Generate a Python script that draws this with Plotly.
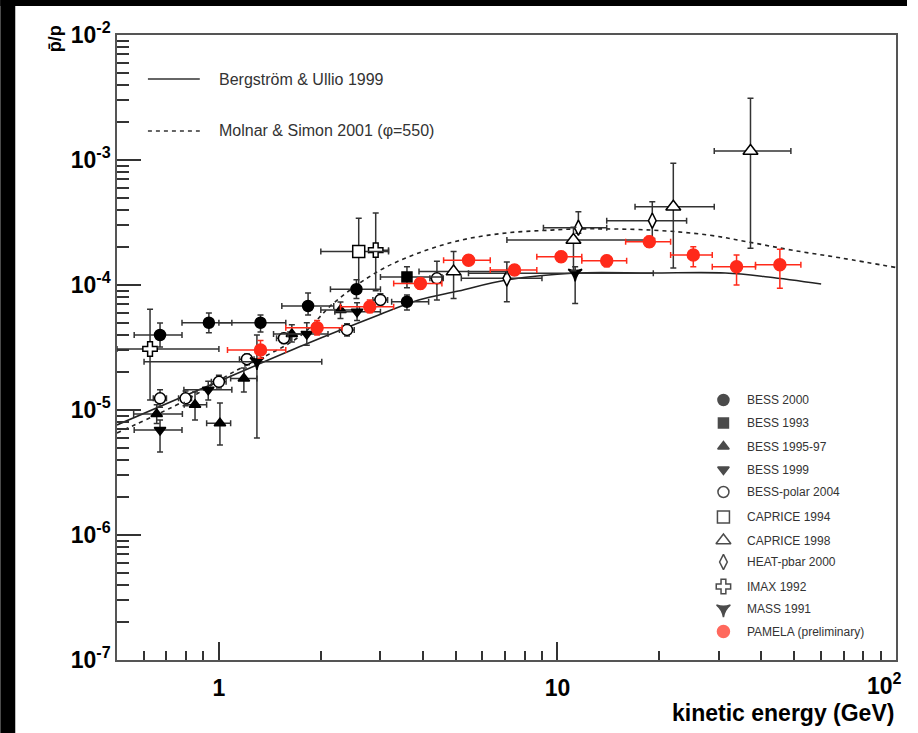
import plotly.graph_objects as go

# ---------------- model curves ----------------
bu_x = [0.5, 0.873, 1.781, 2.965, 3.89, 5.10, 7.07, 11.3, 18.93, 31.3, 41.9, 60.1]
bu_y = [7.59e-6, 1.45e-5, 3.31e-5, 5.75e-5, 7.59e-5, 8.95e-5, 1.096e-4, 1.247e-4,
        1.247e-4, 1.247e-4, 1.159e-4, 1.019e-4]
ms_x = [0.5, 0.799, 1.092, 1.722, 2.20, 2.965, 3.89, 5.21, 7.07, 9.60, 11.53, 18.93,
        27.9, 36.6, 49.0, 68.9, 100.0]
ms_y = [6.55e-6, 1.2e-5, 1.98e-5, 3.84e-5, 7.31e-5, 1.294e-4, 1.803e-4, 2.29e-4,
        2.61e-4, 2.75e-4, 2.81e-4, 2.75e-4, 2.51e-4, 2.21e-4, 1.905e-4, 1.644e-4, 1.38e-4]

# ---------------- data sets ----------------
bess2000_x = [0.670, 0.934, 1.327, 1.834, 2.548, 3.593]
bess2000_y = [3.98e-5, 4.99e-5, 4.99e-5, 6.79e-5, 9.24e-5, 7.35e-5]
bess2000_xlo = [0.562, 0.778, 1.0, 1.534, 2.135, 3.238]
bess2000_xhi = [0.778, 1.092, 1.576, 2.184, 3.0, 4.164]
bess2000_ylo = [3.19e-5, 4.14e-5, 4.21e-5, 5.75e-5, 7.8e-5, 6.3e-5]
bess2000_yhi = [4.97e-5, 5.97e-5, 5.75e-5, 8.63e-5, 1.1e-4, 8.3e-5]

bess1993_x = [3.593]
bess1993_y = [1.16e-4]
bess1993_xlo = [3.0]
bess1993_xhi = [4.557]
bess1993_ylo = [9.5e-5]
bess1993_yhi = [1.4e-4]

bess9597_x = [0.655, 0.850, 1.007, 1.185, 1.642, 2.286]
bess9597_y = [9.29e-6, 1.10e-5, 7.83e-6, 1.79e-5, 4.06e-5, 6.31e-5]
bess9597_xlo = [0.56, 0.79, 0.92, 1.083, 1.45, 2.0]
bess9597_xhi = [0.78, 0.92, 1.083, 1.295, 1.83, 2.6]
bess9597_ylo = [7.8e-6, 8.3e-6, 5.25e-6, 1.39e-5, 3.5e-5, 5.4e-5]
bess9597_yhi = [1.1e-5, 1.39e-5, 1.14e-5, 2.17e-5, 4.8e-5, 7.3e-5]

bess1999_x = [0.670, 0.930, 1.818, 2.559]
bess1999_y = [6.92e-6, 1.45e-5, 4.06e-5, 6.11e-5]
bess1999_xlo = [0.562, 0.788, 1.6, 2.2]
bess1999_xhi = [0.778, 1.092, 2.1, 3.0]
bess1999_ylo = [4.61e-6, 1.2e-5, 3.3e-5, 5.2e-5]
bess1999_yhi = [8.3e-6, 1.7e-5, 5.0e-5, 7.2e-5]

polar_x = [0.670, 0.797, 1.0, 1.21, 1.556, 2.39, 3.0, 4.405]
polar_y = [1.24e-5, 1.24e-5, 1.68e-5, 2.55e-5, 3.75e-5, 4.37e-5, 7.6e-5, 1.13e-4]
polar_xlo = [0.64, 0.76, 0.95, 1.15, 1.48, 2.27, 2.85, 4.2]
polar_xhi = [0.70, 0.83, 1.05, 1.27, 1.63, 2.51, 3.15, 4.6]
polar_ylo = [1.05e-5, 1.08e-5, 1.5e-5, 2.3e-5, 3.4e-5, 3.9e-5, 6.8e-5, 7.6e-5]
polar_yhi = [1.45e-5, 1.42e-5, 1.9e-5, 2.8e-5, 4.1e-5, 4.9e-5, 8.5e-5, 1.55e-4]

cap94_x = [2.588]
cap94_y = [1.85e-4]
cap94_xlo = [2.0]
cap94_xhi = [3.17]
cap94_ylo = [9.69e-5]
cap94_yhi = [3.42e-4]

cap98_x = [4.934, 11.15, 21.99, 37.17]
cap98_y = [1.28e-4, 2.29e-4, 4.23e-4, 1.18e-3]
cap98_xlo = [3.9, 7.09, 16.95, 29.05]
cap98_xhi = [7.09, 18.74, 29.05, 48.92]
cap98_ylo = [7.81e-5, 1.3e-4, 1.37e-4, 1.97e-4]
cap98_yhi = [1.85e-4, 2.9e-4, 9.41e-4, 3.12e-3]

heat_x = [7.087, 11.53, 19.06]
heat_y = [1.13e-4, 2.87e-4, 3.27e-4]
heat_xlo = [5.2, 9.09, 13.98]
heat_xhi = [9.0, 13.98, 24.07]
heat_ylo = [7.35e-5, 2.59e-4, 2.36e-4]
heat_yhi = [1.53e-4, 3.86e-4, 4.64e-4]

imax_x = [0.626, 2.905]
imax_y = [3.08e-5, 1.90e-4]
imax_xlo = [0.5, 2.77]
imax_xhi = [1.0, 3.17]
imax_ylo = [1.2e-5, 9.0e-5]
imax_yhi = [6.4e-5, 3.77e-4]

mass_x = [1.295, 11.28]
mass_y = [2.43e-5, 1.24e-4]
mass_xlo = [0.601, 5.46]
mass_xhi = [2.013, 19.19]
mass_ylo = [5.97e-6, 7.1e-5]
mass_yhi = [3.98e-5, 1.4e-4]

pam_x = [1.327, 1.950, 2.79, 3.936, 5.464, 7.467, 10.25, 13.98, 18.68, 25.19, 33.81, 45.39]
pam_y = [3.02e-5, 4.55e-5, 6.71e-5, 1.03e-4, 1.58e-4, 1.32e-4, 1.68e-4, 1.56e-4,
         2.22e-4, 1.74e-4, 1.40e-4, 1.45e-4]
pam_xlo = [1.06, 1.576, 2.286, 3.283, 4.61, 6.331, 8.69, 11.8, 15.9, 21.59, 28.66, 38.46]
pam_xhi = [1.576, 2.311, 3.283, 4.557, 6.331, 8.69, 11.8, 16.01, 21.59, 28.66, 38.46, 52.36]
pam_ylo = [2.6e-5, 3.98e-5, 6.0e-5, 9.3e-5, 1.45e-4, 1.2e-4, 1.53e-4, 1.4e-4,
           2.0e-4, 1.40e-4, 1.0e-4, 9.42e-5]
pam_yhi = [3.6e-5, 5.2e-5, 7.6e-5, 1.14e-4, 1.72e-4, 1.45e-4, 1.85e-4, 1.72e-4,
           2.45e-4, 2.02e-4, 1.74e-4, 1.93e-4]

legend_names = ["BESS 2000", "BESS 1993", "BESS 1995-97", "BESS 1999", "BESS-polar 2004",
                "CAPRICE 1994", "CAPRICE 1998", "HEAT-pbar 2000", "IMAX 1992", "MASS 1991",
                "PAMELA (preliminary)"]

x_tickvals = [1, 10, 100]
x_ticktext = ["1", "10", ""]
x_last_label = "10<sup>2</sup>"
y_tickvals = [1e-7, 1e-6, 1e-5, 1e-4, 1e-3, 1e-2]
y_ticktext = ["10<sup>-7</sup>", "10<sup>-6</sup>", "10<sup>-5</sup>", "10<sup>-4</sup>",
              "10<sup>-3</sup>", "10<sup>-2</sup>"]

FONT = "Liberation Sans, Arial, Helvetica, sans-serif"
INK = "#222222"
RED = "#ff2a1a"

fig = go.Figure()

# model curves
fig.add_trace(go.Scatter(x=bu_x, y=bu_y, mode="lines", line=dict(color=INK, width=1.6),
                         line_shape="spline", hoverinfo="skip", showlegend=False))
fig.add_trace(go.Scatter(x=ms_x, y=ms_y, mode="lines",
                         line=dict(color=INK, width=1.6, dash="4px,4px"),
                         line_shape="spline", hoverinfo="skip", showlegend=False))


def add_set(x, y, xlo, xhi, ylo, yhi, symbol, size, color, fill, ecolor):
    fig.add_trace(go.Scatter(
        x=x, y=y, mode="markers", showlegend=False,
        marker=dict(symbol=symbol, size=size, color=fill,
                    line=dict(color=color, width=1.5)),
        error_x=dict(type="data", symmetric=False,
                     array=[h - v for h, v in zip(xhi, x)],
                     arrayminus=[v - l for l, v in zip(xlo, x)],
                     color=ecolor, thickness=1.5, width=3),
        error_y=dict(type="data", symmetric=False,
                     array=[h - v for h, v in zip(yhi, y)],
                     arrayminus=[v - l for l, v in zip(ylo, y)],
                     color=ecolor, thickness=1.5, width=3),
    ))


EC = "#333333"
add_set(polar_x, polar_y, polar_xlo, polar_xhi, polar_ylo, polar_yhi, "circle", 11, "black", "white", EC)
add_set(mass_x, mass_y, mass_xlo, mass_xhi, mass_ylo, mass_yhi, "star-triangle-down", 10, "black", "black", EC)
add_set(imax_x, imax_y, imax_xlo, imax_xhi, imax_ylo, imax_yhi, "cross", 12, "black", "white", EC)
add_set(bess9597_x, bess9597_y, bess9597_xlo, bess9597_xhi, bess9597_ylo, bess9597_yhi, "triangle-up", 10, "black", "black", EC)
add_set(bess1999_x, bess1999_y, bess1999_xlo, bess1999_xhi, bess1999_ylo, bess1999_yhi, "triangle-down", 10, "black", "black", EC)
add_set(cap94_x, cap94_y, cap94_xlo, cap94_xhi, cap94_ylo, cap94_yhi, "square", 12, "black", "white", EC)
add_set(heat_x, heat_y, heat_xlo, heat_xhi, heat_ylo, heat_yhi, "diamond-tall", 11, "black", "white", EC)
add_set(cap98_x, cap98_y, cap98_xlo, cap98_xhi, cap98_ylo, cap98_yhi, "triangle-up", 13, "black", "white", EC)
add_set(bess2000_x, bess2000_y, bess2000_xlo, bess2000_xhi, bess2000_ylo, bess2000_yhi, "circle", 11, "black", "black", EC)
add_set(bess1993_x, bess1993_y, bess1993_xlo, bess1993_xhi, bess1993_ylo, bess1993_yhi, "square", 10, "black", "black", EC)
add_set(pam_x, pam_y, pam_xlo, pam_xhi, pam_ylo, pam_yhi, "circle", 12, RED, RED, RED)

# ---------------- hand-drawn legends (ROOT style) ----------------
FIG_W, FIG_H = 907, 733
L, R, T, B = 117, 898, 35, 660
W, H = R - L, B - T


def px(xp):
    return (xp - L) / W


def py(yp):
    return (B - yp) / H


leg_symbols = ["circle", "square", "triangle-up", "triangle-down", "circle", "square",
               "triangle-up", "diamond-tall", "cross", "star-triangle-down", "circle"]
leg_fill = ["black", "black", "black", "black", "white", "white", "white", "white", "white",
            "black", RED]
leg_line = ["black"] * 10 + [RED]
leg_size = [11, 10, 10, 10, 11, 12, 13, 11, 12, 10, 12]
leg_rows = [400, 423, 446.5, 469.5, 492, 517, 540.5, 562, 586.5, 609, 631.5]

fig.add_trace(go.Scatter(
    x=[px(725)] * len(leg_rows), y=[py(r) for r in leg_rows], mode="markers",
    xaxis="x2", yaxis="y2", showlegend=False, hoverinfo="skip",
    marker=dict(symbol=leg_symbols, color=leg_fill, size=leg_size,
                line=dict(color=leg_line, width=1.5))))

annotations = []
for name, r in zip(legend_names, leg_rows):
    annotations.append(dict(text=name, x=px(747), y=py(r), xref="paper", yref="paper",
                            xanchor="left", yanchor="middle", showarrow=False,
                            font=dict(family=FONT, size=12, color="#333333")))

annotations += [
    dict(text="Bergström & Ullio 1999", x=px(217), y=py(79), xref="paper", yref="paper",
         xanchor="left", yanchor="middle", showarrow=False,
         font=dict(family=FONT, size=16, color="#333333")),
    dict(text="Molnar & Simon 2001 (φ=550)", x=px(217), y=py(131), xref="paper", yref="paper",
         xanchor="left", yanchor="middle", showarrow=False,
         font=dict(family=FONT, size=16, color="#333333")),
    dict(text="kinetic energy (GeV)", x=1.0, y=py(713), xref="paper", yref="paper",
         xanchor="right", yanchor="middle", showarrow=False,
         font=dict(family=FONT, size=23, color="black", weight="bold")),
    dict(text="p\u0304/p", x=px(55), y=py(39), xref="paper", yref="paper",
         xanchor="center", yanchor="middle", showarrow=False, textangle=-90,
         font=dict(family=FONT, size=18, color="black", weight="bold")),
    # last x tick label, kept inside the page edge
    dict(text=x_last_label, x=px(906), y=py(684), xref="paper", yref="paper",
         xanchor="right", yanchor="middle", showarrow=False,
         font=dict(family=FONT, size=23, color="black", weight="bold")),
]

shapes = [
    dict(type="line", xref="paper", yref="paper", x0=px(148), x1=px(200), y0=py(79), y1=py(79),
         line=dict(color="#333333", width=1.6)),
    dict(type="line", xref="paper", yref="paper", x0=px(148), x1=px(200), y0=py(131), y1=py(131),
         line=dict(color="#333333", width=1.6, dash="4px,4px")),
    # black frame bands of the original screenshot
    dict(type="rect", xref="paper", yref="paper", x0=px(0), x1=px(15), y0=py(733), y1=py(0),
         line=dict(width=0), fillcolor="black"),
    dict(type="rect", xref="paper", yref="paper", x0=px(0), x1=px(918), y0=py(6), y1=py(0),
         line=dict(width=0), fillcolor="black"),
]

x_minor = [m * 10 ** e for e in (-1, 0, 1) for m in range(2, 10) if 0.5 <= m * 10 ** e <= 100]
y_minor = [m * 10 ** e for e in range(-7, -2) for m in range(2, 10)]

fig.update_layout(
    width=FIG_W, height=FIG_H, autosize=False,
    margin=dict(l=L, r=FIG_W - R, t=T, b=FIG_H - B),
    paper_bgcolor="white", plot_bgcolor="white",
    showlegend=False,
    font=dict(family=FONT, color="black"),
    xaxis=dict(type="log", range=[-0.30103, 2], showgrid=False, zeroline=False,
               showline=True, linecolor="#555555", linewidth=1.5, mirror=True,
               ticks="inside", ticklen=18, tickwidth=1.5, tickcolor="#333333",
               tickmode="array", tickvals=x_tickvals, ticktext=x_ticktext,
               tickfont=dict(family=FONT, size=23, color="black", weight="bold"),
               ticklabelstandoff=7, ticklabeloverflow="allow",
               minor=dict(ticks="inside", ticklen=9, tickwidth=1.5, tickcolor="#333333",
                          tickmode="array", tickvals=x_minor, showgrid=False)),
    yaxis=dict(type="log", range=[-7, -2], showgrid=False, zeroline=False,
               showline=True, linecolor="#555555", linewidth=1.5, mirror=True,
               ticks="inside", ticklen=24, tickwidth=1.5, tickcolor="#333333",
               tickmode="array", tickvals=y_tickvals, ticktext=y_ticktext,
               tickfont=dict(family=FONT, size=23, color="black", weight="bold"),
               ticklabeloverflow="allow",
               minor=dict(ticks="inside", ticklen=12, tickwidth=1.5, tickcolor="#333333",
                          tickmode="array", tickvals=y_minor, showgrid=False)),
    xaxis2=dict(overlaying="x", range=[0, 1], visible=False, anchor="y2"),
    yaxis2=dict(overlaying="y", range=[0, 1], visible=False, anchor="x2"),
    annotations=annotations,
    shapes=shapes,
)

post = ("var s=document.createElement('style');"
        "s.innerHTML='::-webkit-scrollbar{display:none;width:0;height:0;}"
        "html,body{margin:0;overflow:hidden;background:#ffffff;}';"
        "document.head.appendChild(s);")

fig.write_html("out.html", config={"displayModeBar": False}, post_script=post)
